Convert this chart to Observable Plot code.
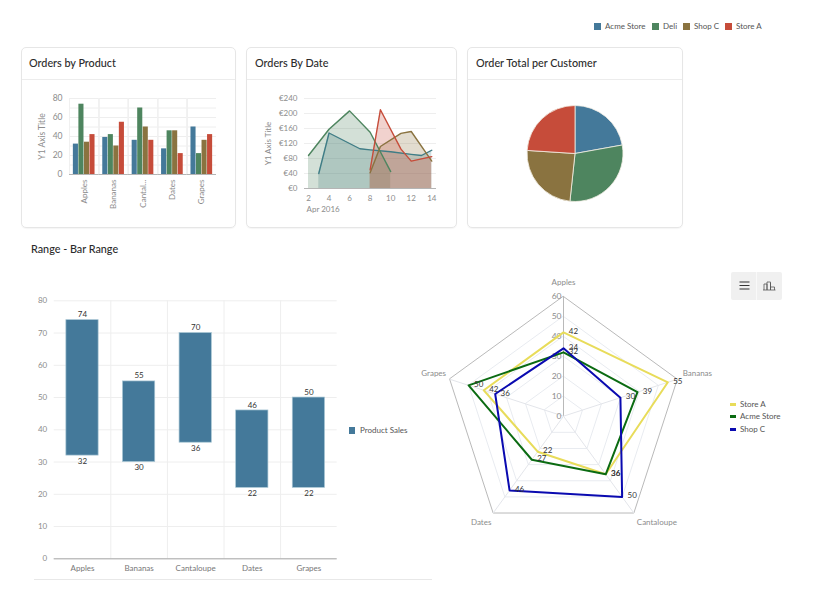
<!DOCTYPE html>
<html>
<head>
<meta charset="utf-8">
<script src="https://cdn.jsdelivr.net/npm/d3@7"></script>
<script src="https://cdn.jsdelivr.net/npm/@observablehq/plot@0.6"></script>
<style>
  html,body{margin:0;padding:0;background:#fff;font-family:"Open Sans",sans-serif;}
  #page{position:relative;width:840px;height:600px;overflow:hidden;}
  .abs{position:absolute;}
  .card{position:absolute;top:47px;height:181px;box-sizing:border-box;border:1px solid #e6e6e6;border-radius:5px;box-shadow:0 1px 1px rgba(0,0,0,.04);}
  .card .head{height:31px;border-bottom:1px solid #ececec;}
  .title{position:absolute;font-family:Lato,sans-serif;font-size:10.8px;font-weight:500;color:#2b2b2b;line-height:14px;white-space:nowrap;}
  .lg{position:absolute;font-family:Lato,sans-serif;font-size:8px;color:#555;line-height:10px;white-space:nowrap;}
  .sw{position:absolute;}
  svg{overflow:visible;}
</style>
</head>
<body>
<div id="page"></div>
<script>
const products = ["Apples","Bananas","Cantaloupe","Dates","Grapes"];
const stores = ["Acme Store","Deli","Shop C","Store A"];
const storeColors = ["#44799a","#4e855f","#8a7340","#c64c3a"];
const dateColors = ["#3f7d86","#4e855f","#8a7340","#c64c3a"];
const acmeOrders = [32,39,36,27,50];
const deliOrders = [74,42,70,46,22];
const shopOrders = [34,30,50,46,36];
const storeAOrders = [42,55,36,22,42];

const acmeDays = [3,4,7,8,10,12,13,14];
const acmeTotals = [40,148,106,103,98,91,88,102];
const deliDays = [2,4,6,8,10];
const deliTotals = [88,158,207,150,45];
const shopDays = [8,9,11,12,14];
const shopTotals = [42,112,147,152,73];
const storeADays = [8,9,11,12,14];
const storeATotals = [50,210,105,73,85];

const customerTotals = [184,245,202,199];

const rangeLow = [32,30,36,22,22];
const rangeHigh = [74,55,70,46,50];

const radarSeries = ["Store A","Acme Store","Shop C"];
const radarColors = ["#e8dc5a","#0b6b12","#0a0ab0"];
const radarStoreA = [42,55,36,22,42];
const radarAcme = [32,39,36,27,50];
const radarShop = [34,30,50,46,36];
const radarRings = [10,20,30,40,50,60];

const page = document.getElementById("page");
const font = {fontFamily:"Lato,sans-serif",fontSize:"8px",background:"transparent",overflow:"visible"};
const tickGray = "#8c8c8c", gridGray = "#eeeeee";
function place(node,left,top){node.style.position="absolute";node.style.left=left+"px";node.style.top=top+"px";page.appendChild(node);}
function html(cls,left,top,text,extra){const e=document.createElement("div");e.className=cls;e.style.left=left+"px";e.style.top=top+"px";if(text)e.textContent=text;if(extra)Object.assign(e.style,extra);page.appendChild(e);return e;}

// cards
[[21,215],[246,211],[467,216]].forEach(([l,w])=>{const c=html("card",l,47,"",{width:w+"px"});const h=document.createElement("div");h.className="head";c.appendChild(h);});
html("title",29,56,"Orders by Product");
html("title",255,56,"Orders By Date");
html("title",476,56,"Order Total per Customer");
html("title",31,242,"Range - Bar Range");

// top legend
const topLeft=[594,652,683,725];
stores.forEach((s,i)=>{
  html("sw",topLeft[i],23,"",{width:7+"px",height:7+"px",background:storeColors[i]});
  html("lg",topLeft[i]+11,21,s);
});

// Orders by Product
const orders = stores.flatMap((s,k)=>[acmeOrders,deliOrders,shopOrders,storeAOrders][k].map((v,i)=>({store:s,product:products[i],value:v})));
place(Plot.plot({
  width:205,height:130,marginLeft:49,marginRight:9,marginTop:13,marginBottom:41,style:font,
  fx:{domain:products,padding:0,round:false,label:null},
  x:{domain:stores,paddingInner:0.08,paddingOuter:0.7,round:false,axis:null},
  y:{domain:[0,80]},
  color:{domain:stores,range:storeColors},
  marks:[
    Plot.gridY(d3.range(0,90,10),{stroke:gridGray,strokeOpacity:1}),
    Plot.gridFx(products.slice(1),{stroke:"#f0f0f0",strokeOpacity:1,dx:-14.7}),
    Plot.axisY({ticks:d3.range(0,100,20),tickSize:0,tickPadding:7,color:tickGray,fontSize:8.5,label:"Y1 Axis Title",labelAnchor:"center",labelArrow:"none",labelOffset:31}),
    Plot.axisFx({anchor:"bottom",tickRotate:-90,tickSize:0,tickPadding:5,color:tickGray,label:null,tickFormat:d=>d.length>8?d.slice(0,6)+"...":d}),
    Plot.barY(orders,{fx:"product",x:"store",y:"value",fill:"store"}),
    Plot.ruleY([0],{stroke:"#b5b5b5"})
  ]
}),20,85);

// Orders By Date
const dated = [[acmeDays,acmeTotals],[deliDays,deliTotals],[shopDays,shopTotals],[storeADays,storeATotals]]
  .flatMap(([ds,ts],k)=>ds.map((d,i)=>({store:stores[k],day:d,total:ts[i]})));
place(Plot.plot({
  width:200,height:132,marginLeft:54,marginRight:14,marginTop:13,marginBottom:29,style:font,
  x:{domain:[1.61,14.46]},
  y:{domain:[0,240]},
  color:{domain:stores,range:dateColors},
  marks:[
    Plot.gridY(d3.range(0,280,40),{stroke:gridGray,strokeOpacity:1}),
    Plot.axisY({ticks:d3.range(0,280,40),tickSize:0,tickPadding:7,color:tickGray,fontSize:8,tickFormat:d=>"€"+d,label:"Y1 Axis Title",labelAnchor:"center",labelArrow:"none",labelOffset:39}),
    Plot.axisX({ticks:d3.range(2,16,2),tickSize:0,tickPadding:7,color:tickGray,fontSize:8,label:null}),
    Plot.text(["Apr 2016"],{frameAnchor:"bottom-left",dx:2,dy:21,text:d=>d,fill:tickGray,fontSize:8,lineAnchor:"middle"}),
    Plot.areaY(dated,{x:"day",y1:()=>0,y2:"total",fill:"store",fillOpacity:0.25,z:"store"}),
    Plot.lineY(dated,{x:"day",y:"total",stroke:"store",strokeWidth:1.4,z:"store"}),
    Plot.ruleY([0],{stroke:"#b5b5b5"})
  ]
}),250,85);

// Order Total per Customer
const shares = stores.map((s,i)=>({store:s,value:customerTotals[i]}));
const pieRadius = 48;
place(Plot.plot({
  width:214,height:147,margin:0,style:font,
  x:{domain:[0,d3.sum(customerTotals)],range:[0,2*Math.PI],axis:null},
  color:{domain:stores,range:storeColors},
  marks:[
    Plot.rectX(shares,Plot.stackX({x:"value",fill:"store",
      render(index,scales,values,dimensions){
        const g=d3.create("svg:g").attr("transform",`translate(${dimensions.width/2},${dimensions.height/2})`);
        const arc=d3.arc().innerRadius(0).outerRadius(pieRadius);
        for(const i of index){
          g.append("path").attr("d",arc({startAngle:values.x1[i],endAngle:values.x2[i]}))
            .attr("fill",values.fill[i]).attr("stroke","#f4f0e6").attr("stroke-width",0.8);
        }
        return g.node();
      }}))
  ]
}),468,80);

// Range - Bar Range
const ranges = products.map((p,i)=>({product:p,low:rangeLow[i],high:rangeHigh[i]}));
place(Plot.plot({
  width:330,height:295,marginLeft:33.7,marginRight:13.3,marginTop:15.3,marginBottom:21.7,style:font,
  x:{domain:products,paddingInner:0.43,paddingOuter:0.215,round:false,label:null},
  y:{domain:[0,80]},
  marks:[
    Plot.gridY(d3.range(0,90,10),{stroke:gridGray,strokeOpacity:1}),
    Plot.ruleX(products.slice(1),{x:d=>d,dx:-28.3,stroke:gridGray}),
    Plot.axisY({ticks:d3.range(0,90,10),tickSize:0,tickPadding:7,color:tickGray,label:null}),
    Plot.axisX({tickSize:0,tickPadding:7,color:"#777",label:null}),
    Plot.barY(ranges,{x:"product",y1:"low",y2:"high",fill:"#44799a",stroke:"#a8c6d4",strokeWidth:0.7}),
    Plot.text(ranges,{x:"product",y:"high",text:"high",dy:-5.5,fill:"#333"}),
    Plot.text(ranges,{x:"product",y:"low",text:"low",dy:5.5,fill:"#333"}),
    Plot.ruleY([0],{stroke:"#a8a8a8"})
  ]
}),20,285);
html("abs",34,579,"",{width:"398px",height:"1px",background:"#e8e8e8"});
html("sw",349,427,"",{width:6+"px",height:7+"px",background:"#44799a"});
html("lg",360,425,"Product Sales");

// Radar
const scalePx = 119.7/60;
const angle = i=>i*2*Math.PI/products.length;
const polar = (r,i)=>({px:r*Math.sin(angle(i)),py:r*Math.cos(angle(i))});
const radar = [radarStoreA,radarAcme,radarShop].flatMap((vals,k)=>
  vals.map((v,i)=>({series:radarSeries[k],value:v,...polar(v,i)})));
const rings = radarRings.flatMap(r=>products.map((p,i)=>({ring:r,...polar(r,i)})));
const spokes = products.map((p,i)=>({product:p,...polar(60,i)}));
const labelNudge = [[0,14],[20,6],[23,-9],[-12,-9],[-16,6]];
const labels = spokes.map((s,i)=>({product:s.product,px:s.px+labelNudge[i][0]/scalePx,py:s.py+labelNudge[i][1]/scalePx}));
const loop = {curve:"linear-closed"};
place(Plot.plot({
  width:300,height:291.4,margin:0,style:font,
  x:{domain:[-150/scalePx,150/scalePx],axis:null},
  y:{domain:[-145.7/scalePx,145.7/scalePx],axis:null},
  color:{domain:radarSeries,range:radarColors},
  marks:[
    Plot.line(rings,{x:"px",y:"py",z:"ring",...loop,stroke:d=>d.ring===60?"#b9b9b9":"#e8ebf0",strokeWidth:1}),
    Plot.link(spokes,{x1:()=>0,y1:()=>0,x2:"px",y2:"py",stroke:"#e3e5ea"}),
    Plot.ruleX([0],{y1:0,y2:60,stroke:"#b9b9b9"}),
    Plot.text([0,...radarRings],{x:()=>0,y:d=>d,text:d=>d,textAnchor:"end",dx:-2,fill:tickGray,fontSize:8.5}),
    Plot.text(labels,{x:"px",y:"py",text:"product",fill:tickGray}),
    Plot.line(radar,{x:"px",y:"py",z:"series",stroke:"series",strokeWidth:2,...loop}),
    Plot.text(radar,{x:"px",y:"py",text:"value",dx:10,dy:-1,fill:"#333"})
  ]
}),413.3,270);
const radarLegendTop=[404,416,429];
radarSeries.forEach((s,i)=>{
  html("sw",730,radarLegendTop[i]-1,"",{width:6+"px",height:2.5+"px",background:radarColors[i]});
  html("lg",740,radarLegendTop[i]-5,s);
});

// buttons
const btn=html("abs",731,272,"",{width:"51px",height:"28px",background:"#f0f0f0",borderRadius:"2px"});
btn.innerHTML=`<svg width="51" height="28" style="display:block">
<path d="M8.5 10h10M8.5 13.5h10M8.5 17h10" stroke="#333" stroke-width="1" fill="none"/>
<line x1="25.5" y1="0" x2="25.5" y2="28" stroke="#fff" stroke-width="0.6"/>
<path d="M33 18v-6h3v6M36 18v-8h3.5v8M39.5 18v-7h0M39.5 18v-3h4v3M32 18h12.5" stroke="#555" stroke-width="0.8" fill="none"/></svg>`;
</script>
</body>
</html>
